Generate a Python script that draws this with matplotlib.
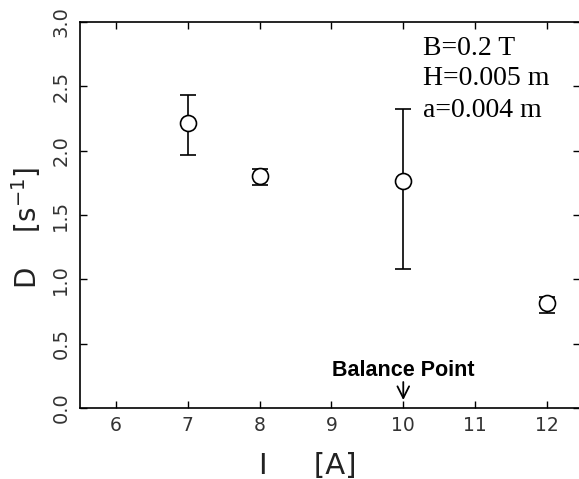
import matplotlib
matplotlib.use("Agg")
import matplotlib.pyplot as plt

current = [7, 8, 10, 12]
D = [2.215, 1.80, 1.765, 0.815]
err_low = [0.25, 0.065, 0.685, 0.075]
err_high = [0.22, 0.06, 0.555, 0.05]
xticks = [6, 7, 8, 9, 10, 11, 12]
yticks = [0.0, 0.5, 1.0, 1.5, 2.0, 2.5, 3.0]
param_lines = ["B=0.2 T", "H=0.005 m", "a=0.004 m"]
param_y = [2.741, 2.508, 2.259]

fig = plt.figure(figsize=(5.79, 4.79), dpi=100)
ax = fig.add_axes([80/579, 71/479, 500/579, 386/479])
ax.errorbar(current, D, yerr=[err_low, err_high], fmt='o', mfc='white', mec='black',
            ms=11.5, mew=1.2, ecolor='black', elinewidth=1.2, capsize=6, capthick=1.2, color='black')
ax.set_xlim(5.5, 12.46)
ax.set_ylim(0, 3.0)
ax.set_xticks(xticks)
ax.set_xticklabels([str(t) for t in xticks], fontsize=13.5, color='#333333')
ax.set_yticks(yticks)
ax.set_yticklabels([f"{t:.1f}" for t in yticks], fontsize=14, rotation=90, va='center', color='#333333')
ax.tick_params(axis='x', direction='in', top=True, length=5, width=1, pad=6)
ax.tick_params(axis='y', direction='in', right=True, length=5, width=1, pad=7)
ax.spines['right'].set_visible(False)
for s in ['left', 'bottom', 'top']:
    ax.spines[s].set_linewidth(1.2)
ax.set_xlabel("I     [A]", fontsize=21, color='#222222')
ax.xaxis.set_label_coords(0.456, -0.115)
ax.set_ylabel("D    [s$^{\\mathregular{-1}}$]", fontsize=20, color='#222222')
ax.yaxis.set_label_coords(-0.074, 0.466)
for txt, yy in zip(param_lines, param_y):
    ax.text(10.27, yy, txt, family='Liberation Serif', fontsize=20, va='baseline', ha='left')
ax.text(10, 0.248, "Balance Point", ha='center', va='baseline',
        fontsize=15.5, fontweight='bold', family='Liberation Sans')
ax.annotate("", xy=(10, 0.062), xytext=(10, 0.202),
            arrowprops=dict(arrowstyle='->,head_length=0.6,head_width=0.3', mutation_scale=14,
                            color='black', lw=1.3, shrinkA=0, shrinkB=0))
fig.savefig("out.png", dpi=100)
